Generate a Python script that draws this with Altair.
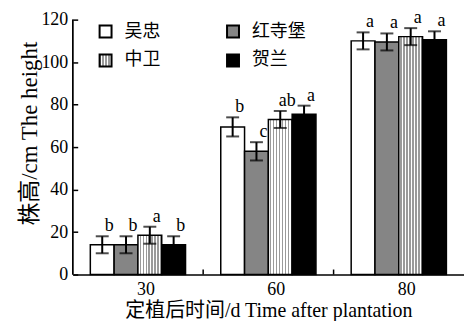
import altair as alt
import pandas as pd

days = ['30', '60', '80']
varieties = ['吴忠', '红寺堡', '中卫', '贺兰']
legend_order = ['吴忠', '红寺堡', '中卫', '贺兰']
means = {
    '吴忠': [14.0, 69.5, 110.0],
    '红寺堡': [14.0, 58.0, 109.5],
    '中卫': [18.5, 73.0, 112.0],
    '贺兰': [14.0, 75.5, 110.5],
}
errs = {
    '吴忠': [4.0, 4.5, 4.0],
    '红寺堡': [4.0, 4.3, 4.0],
    '中卫': [4.0, 4.0, 4.0],
    '贺兰': [4.0, 4.0, 4.0],
}
letters = {
    '吴忠': ['b', 'b', 'a'],
    '红寺堡': ['b', 'c', 'a'],
    '中卫': ['a', 'ab', 'a'],
    '贺兰': ['b', 'a', 'a'],
}
y_ticks = [0, 20, 40, 60, 80, 100, 120]

rows = []
for v in varieties:
    for i, d in enumerate(days):
        rows.append({'day': d, 'variety': v, 'mean': means[v][i],
                     'lo': means[v][i] - errs[v][i], 'hi': means[v][i] + errs[v][i],
                     'letter': letters[v][i]})
df = pd.DataFrame(rows)
df_days = pd.DataFrame({'day': days[:-1]})

SERIF = 'Liberation Serif, Noto Sans CJK SC'
W, H = 393, 256

# vertical stripe gradient for 中卫
stops = []
n = 8
for i in range(n):
    a = i / n
    b = a + 0.55 / n
    c = (i + 1) / n
    stops += [(a, '#ffffff'), (b, '#ffffff'), (b, '#9a9a9a'), (c, '#9a9a9a')]
stripe_expr = ("{gradient:'linear',x1:0,y1:0,x2:1,y2:0,stops:["
               + ",".join("{offset:%.4f,color:'%s'}" % s for s in stops) + "]}")

fills = {'吴忠': '#ffffff', '红寺堡': '#858585', '中卫': {'expr': stripe_expr}, '贺兰': '#000000'}
color_range = [fills[v] for v in legend_order]

x_scale = alt.Scale(domain=days, paddingInner=0.27, paddingOuter=0.135)
x_axis = alt.Axis(title='定植后时间/d Time after plantation', labelAngle=0, ticks=False,
                  labelOffset=8, labelPadding=6, domainColor='black', domainWidth=1.5,
                  labelFont=SERIF, labelFontSize=18, labelColor='black',
                  titleFont=SERIF, titleFontSize=20, titleFontWeight='normal',
                  titleColor='black', titlePadding=2)
y_scale = alt.Scale(domain=[0, 120], nice=False)
y_axis = alt.Axis(title='株高/cm The height', values=y_ticks, grid=False, domain=False,
                  offset=-5, tickSize=5, tickWidth=1.5, tickColor='black',
                  labelPadding=5, labelFont=SERIF, labelFontSize=18, labelColor='black',
                  titleFont=SERIF, titleFontSize=23, titleFontWeight='normal',
                  titleColor='black', titleAngle=270, titleX=-48, titleY=114,
                  titleAlign='center', titleBaseline='middle', titleAnchor='middle')

X = alt.X('day:N', scale=x_scale, axis=x_axis, sort=days)
XO = alt.XOffset('variety:N', scale=alt.Scale(domain=varieties, paddingInner=0, paddingOuter=0),
                 sort=varieties)

base = alt.Chart(df)

bars = base.mark_bar(stroke='black', strokeWidth=1.5, opacity=1).encode(
    x=X, xOffset=XO,
    y=alt.Y('mean:Q', scale=y_scale, axis=y_axis),
    fill=alt.Fill('variety:N', scale=alt.Scale(domain=legend_order, range=color_range),
                  sort=legend_order,
                  legend=alt.Legend(title=None, orient='none', legendX=24, legendY=3,
                                    direction='horizontal',
                                    columns=2, columnPadding=63, rowPadding=9,
                                    symbolType='square', symbolSize=144,
                                    symbolStrokeColor='black', symbolStrokeWidth=2,
                                    symbolOpacity=1,
                                    labelFont='Noto Sans CJK SC', labelFontSize=18,
                                    labelColor='black', labelOffset=10, padding=0)),
)

err = base.mark_rule(color='black', strokeWidth=2).encode(
    x=X, xOffset=XO,
    y=alt.Y('lo:Q', scale=y_scale, axis=y_axis), y2='hi:Q',
)
cap_hi = base.mark_tick(color='black', size=13, thickness=2).encode(
    x=X, xOffset=XO, y=alt.Y('hi:Q', scale=y_scale, axis=y_axis))
cap_lo = base.mark_tick(color='black', size=13, thickness=2).encode(
    x=X, xOffset=XO, y=alt.Y('lo:Q', scale=y_scale, axis=y_axis))

labels = base.mark_text(font='Liberation Serif', fontSize=18, dx=7, dy=-1,
                        baseline='bottom', align='center', color='black').encode(
    x=X, xOffset=XO, y=alt.Y('hi:Q', scale=y_scale, axis=y_axis), text='letter:N')

y_domain = alt.Chart(df_days).mark_rule(color='black', strokeWidth=1.5).encode(
    x=alt.value(0), y=alt.value(0), y2=alt.value(H))

x_ticks = alt.Chart(df_days).mark_rule(color='black', strokeWidth=1.5, xOffset=17.7).encode(
    x=alt.X('day:N', scale=x_scale, axis=x_axis, sort=days, bandPosition=1),
    y=alt.value(H), y2=alt.value(H - 5))

chart = alt.layer(bars, err, cap_hi, cap_lo, labels, y_domain, x_ticks).properties(
    width=W, height=H, padding={'left': 10, 'top': 0, 'right': 0, 'bottom': 0},
    background='white'
).configure_view(stroke=None)

chart.save('out.html', embed_options={'renderer': 'svg', 'actions': False})
